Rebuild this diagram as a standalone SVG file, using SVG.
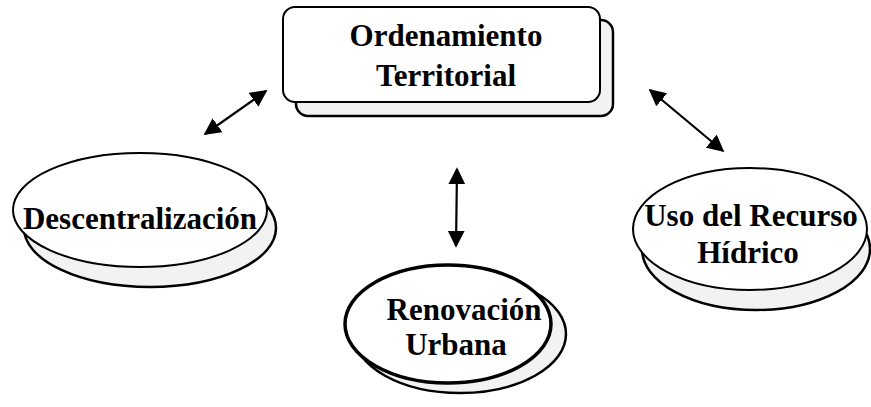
<svg xmlns="http://www.w3.org/2000/svg" width="871" height="407" viewBox="0 0 871 407">
<defs>
<style>
.shadow{fill:#f2f2f2;stroke:#000;stroke-width:2.5}
.front{fill:#fff;stroke:#000;stroke-width:2}
.bold{stroke-width:3.5}
.lbl{font-family:"Liberation Serif","Times New Roman",serif;font-weight:bold;font-size:31px;fill:#000;text-anchor:middle}
.conn{stroke:#000;stroke-width:2.2;fill:none}
</style>
<marker id="ah" viewBox="0 0 10 10" refX="9" refY="5" markerWidth="17" markerHeight="17" markerUnits="userSpaceOnUse" orient="auto-start-reverse">
<path d="M0,0 L10,5 L0,10 z" fill="#000"/>
</marker>
</defs>
<rect width="871" height="407" fill="#fff"/>
<g id="ordenamiento">
<rect class="shadow" x="296" y="20" width="317" height="96" rx="12"/>
<rect class="front" x="283" y="7" width="317" height="95" rx="12"/>
<text class="lbl" x="446" y="46">Ordenamiento</text>
<text class="lbl" x="446" y="86">Territorial</text>
</g>
<g id="descentralizacion">
<ellipse class="shadow" cx="150" cy="228" rx="126" ry="59"/>
<ellipse class="front" cx="140" cy="210" rx="127" ry="57"/>
<text class="lbl" x="140" y="229">Descentralización</text>
</g>
<g id="recurso">
<ellipse class="shadow" cx="756" cy="249" rx="114" ry="61"/>
<ellipse class="front" cx="750" cy="229" rx="117" ry="61"/>
<text class="lbl" x="751" y="226">Uso del Recurso</text>
<text class="lbl" x="748" y="263">Hídrico</text>
</g>
<g id="renovacion">
<ellipse class="shadow" cx="460" cy="334" rx="106" ry="59"/>
<ellipse class="front bold" cx="448" cy="324" rx="103" ry="59"/>
<text class="lbl" x="464" y="320">Renovación</text>
<text class="lbl" x="456" y="355">Urbana</text>
</g>
<g id="connectors">
<line class="conn" x1="205" y1="134" x2="266" y2="91" marker-start="url(#ah)" marker-end="url(#ah)"/>
<line class="conn" x1="650" y1="90" x2="723" y2="151" marker-start="url(#ah)" marker-end="url(#ah)"/>
<line class="conn" x1="457" y1="169" x2="456" y2="246" marker-start="url(#ah)" marker-end="url(#ah)"/>
</g>
</svg>
